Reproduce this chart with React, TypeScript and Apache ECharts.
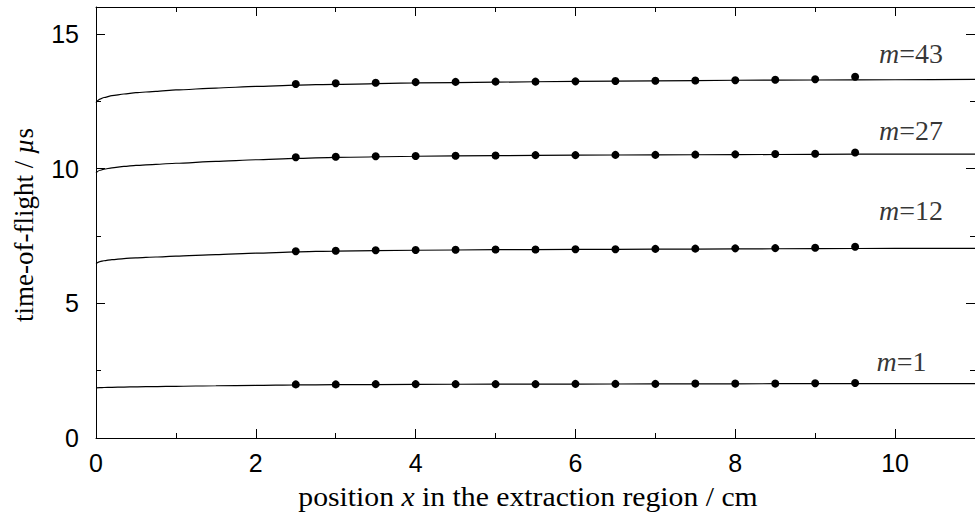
import React, { useEffect, useRef } from "react";
import * as echarts from "echarts";

// Fitted curves (x in cm, time-of-flight in µs)
const curveX = [0, 0.05, 0.1, 0.2, 0.35, 0.5, 0.75, 1, 1.5, 2, 2.5, 3, 4, 5, 6, 7, 8, 9, 10, 11];
const curveM43 = [12.45, 12.58, 12.64, 12.71, 12.77, 12.82, 12.87, 12.92, 12.99, 13.05, 13.1, 13.13, 13.18, 13.21, 13.24, 13.26, 13.28, 13.29, 13.3, 13.31];
const curveM27 = [9.85, 9.94, 9.98, 10.03, 10.08, 10.12, 10.16, 10.2, 10.27, 10.33, 10.38, 10.42, 10.46, 10.48, 10.5, 10.51, 10.52, 10.53, 10.54, 10.54];
const curveM12 = [6.48, 6.55, 6.58, 6.62, 6.66, 6.69, 6.72, 6.75, 6.81, 6.86, 6.91, 6.94, 6.97, 6.99, 7.0, 7.01, 7.02, 7.03, 7.04, 7.04];
const curveM1 = [1.86, 1.87, 1.875, 1.88, 1.89, 1.9, 1.91, 1.92, 1.94, 1.95, 1.97, 1.98, 1.99, 2.0, 2.0, 2.01, 2.01, 2.02, 2.02, 2.02];

// Measured points
const pointX = [2.5, 3, 3.5, 4, 4.5, 5, 5.5, 6, 6.5, 7, 7.5, 8, 8.5, 9, 9.5];
const pointsM43 = [13.14, 13.17, 13.19, 13.21, 13.22, 13.23, 13.23, 13.24, 13.25, 13.26, 13.27, 13.28, 13.3, 13.32, 13.41];
const pointsM27 = [10.42, 10.44, 10.46, 10.47, 10.48, 10.49, 10.5, 10.5, 10.51, 10.51, 10.52, 10.53, 10.54, 10.55, 10.6];
const pointsM12 = [6.93, 6.95, 6.97, 6.98, 6.99, 7.0, 7.0, 7.01, 7.01, 7.02, 7.03, 7.04, 7.05, 7.06, 7.1];
const pointsM1 = [1.99, 1.99, 2.0, 2.0, 2.0, 2.0, 2.0, 2.01, 2.01, 2.01, 2.02, 2.02, 2.02, 2.03, 2.04];

const massLabels = ["43", "27", "12", "1"];
const labelAnchorX = [10.2, 10.2, 10.2, 10.08];
const labelAnchorY = [14.26, 11.41, 8.44, 2.85];

const pair = (xs: number[], ys: number[]) => xs.map((x, i) => [x, ys[i]]);

export default function App() {
  const ref = useRef<HTMLDivElement>(null);
  useEffect(() => {
    if (!ref.current) return;
    const chart = echarts.init(ref.current, undefined, { renderer: "svg" });
    const curves = [curveM43, curveM27, curveM12, curveM1];
    const points = [pointsM43, pointsM27, pointsM12, pointsM1];
    const axisCommon = {
      axisLine: { show: true, onZero: false, lineStyle: { color: "#000", width: 1 } },
      axisTick: { show: true, inside: true, length: 9, lineStyle: { color: "#000" } },
      minorTick: { show: true, splitNumber: 2, length: 5, lineStyle: { color: "#000" } },
      splitLine: { show: false },
      minorSplitLine: { show: false },
    };
    const labelStyle = { color: "#000", fontFamily: "Liberation Sans", fontSize: 25, showMaxLabel: false };
    const serifRich = {
      i: { fontFamily: "Liberation Serif", fontStyle: "italic", fontSize: 28, color: "#000" },
      n: { fontFamily: "Liberation Serif", fontSize: 28, color: "#000" },
    };
    const series: any[] = [];
    curves.forEach((c, i) => {
      series.push({
        type: "line",
        data: pair(curveX, c),
        smooth: 0.25,
        smoothMonotone: "x",
        symbol: "none",
        lineStyle: { color: "#000", width: 1.2 },
        silent: true,
      });
      series.push({
        type: "scatter",
        data: pair(pointX, points[i]),
        symbol: "circle",
        symbolSize: 8,
        itemStyle: { color: "#000", opacity: 1 },
      });
    });
    series.push({
      type: "scatter",
      silent: true,
      symbol: "circle",
      symbolSize: 1,
      itemStyle: { color: "rgba(0,0,0,0)" },
      data: massLabels.map((m, i) => ({
        value: [labelAnchorX[i], labelAnchorY[i]],
        label: {
          show: true,
          position: "inside",
          color: "#000",
          formatter: `{i|m}{n|=${m}}`,
          rich: serifRich,
        },
      })),
    });
    chart.setOption({
      animation: false,
      grid: { left: 96, width: 888, top: 7, height: 431, containLabel: false },
      xAxis: [
        {
          ...axisCommon,
          type: "value",
          position: "bottom",
          min: 0,
          max: 11,
          interval: 2,
          axisLabel: { ...labelStyle, margin: 12 },
        },
        {
          ...axisCommon,
          type: "value",
          position: "top",
          min: 0,
          max: 11,
          interval: 2,
          axisLabel: { show: false },
        },
      ],
      yAxis: [
        {
          ...axisCommon,
          type: "value",
          position: "left",
          min: 0,
          max: 16,
          interval: 5,
          axisLabel: { ...labelStyle, margin: 17 },
        },
        {
          ...axisCommon,
          type: "value",
          position: "right",
          min: 0,
          max: 16,
          interval: 5,
          axisLabel: { show: false },
        },
      ],
      graphic: [
        {
          type: "text",
          x: 528,
          y: 497,
          scaleX: 1.1,
          style: {
            text: "{n|position }{i|x}{n| in the extraction region / cm}",
            align: "center",
            verticalAlign: "middle",
            rich: {
              n: { fontFamily: "Liberation Serif", fontSize: 27, fill: "#000" },
              i: { fontFamily: "Liberation Serif", fontStyle: "italic", fontSize: 27, fill: "#000" },
            },
          },
        },
        {
          type: "text",
          x: 24,
          y: 225,
          rotation: Math.PI / 2,
          style: {
            text: "{n|time-of-flight / }{i|µ}{n|s}",
            align: "center",
            verticalAlign: "middle",
            rich: {
              n: { fontFamily: "Liberation Serif", fontSize: 27, fill: "#000" },
              i: { fontFamily: "Liberation Serif", fontStyle: "italic", fontSize: 27, fill: "#000" },
            },
          },
        },
      ],
      series,
    });
    return () => chart.dispose();
  }, []);
  return <div ref={ref} style={{ width: 975, height: 518, position: "absolute", left: 0, top: 0 }} />;
}
